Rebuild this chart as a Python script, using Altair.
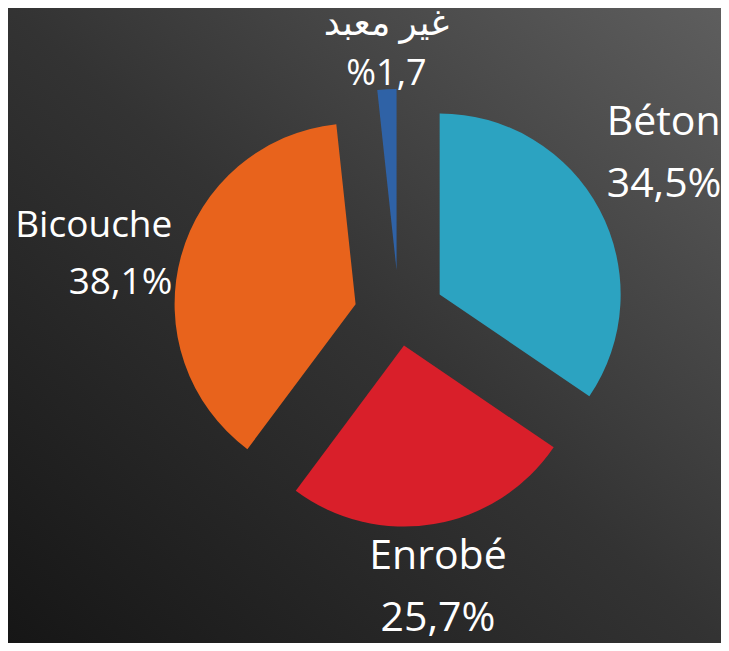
import altair as alt
import pandas as pd

# ---- data ----
categories = ["Béton", "Enrobé", "Bicouche", "غير معبد"]
values = [34.5, 25.7, 38.1, 1.7]
value_labels = ["34,5%", "25,7%", "38,1%", "%1,7"]

# ---- style ----
colors = ["#2ca3c1", "#d91f2a", "#e8631c", "#2f62a6"]
explode = [46, 30, 45, 46]          # pull-out of each slice (px)
font_sizes = [41, 41, 37, 36]       # label font size per slice
line_heights = [62, 62, 57, 50]     # label line spacing per slice
W, H = 713, 635
CX, CY = 391, 308                   # pie centre inside the view
R = 181                             # pie radius
LABEL_R = 235                       # label anchor distance from pie centre
FONT = "Open Sans, DejaVu Sans"

df = pd.DataFrame({
    "cat": categories,
    "val": values,
    "lab": value_labels,
    "order": list(range(len(categories))),
    "explode": explode,
    "fs": font_sizes,
    "lh": line_heights,
})

base = (
    alt.Chart(df)
    .transform_window(cum="sum(val)", sort=[alt.SortField("order")], frame=[None, 0])
    .transform_joinaggregate(total="sum(val)")
    .transform_calculate(
        t1="datum.cum / datum.total * 2 * PI",
        t0="(datum.cum - datum.val) / datum.total * 2 * PI",
    )
    .transform_calculate(mid="(datum.t0 + datum.t1) / 2")
    .transform_calculate(
        s="sin(datum.mid)",
        c="cos(datum.mid)",
    )
    .transform_calculate(
        cx=f"{CX} + datum.explode * datum.s",
        cy=f"{CY} - datum.explode * datum.c",
        px=f"{CX} + {LABEL_R} * datum.s",
        py=f"{CY} - {LABEL_R} * datum.c",
    )
    .transform_calculate(
        first=(
            "datum.c > 0.35 ? datum.py - 0.21 * datum.fs - datum.lh : "
            "(datum.c < -0.35 ? datum.py + 0.79 * datum.fs : datum.py + 0.3 * datum.fs - datum.lh / 2)"
        ),
    )
    .transform_calculate(
        ly=f"min(max(datum.first, 0.75 * datum.fs), {H} - 0.3 * datum.fs - datum.lh)",
        txt="datum.cat + '\\n' + datum.lab",
    )
)

color = alt.Color("cat:N", scale=alt.Scale(domain=categories, range=colors), legend=None)

arcs = base.mark_arc(radius=R).encode(
    x=alt.X("cx:Q", scale=None, axis=None),
    y=alt.Y("cy:Q", scale=None, axis=None),
    theta=alt.Theta("t0:Q", scale=None),
    theta2="t1:Q",
    color=color,
)

labels = base.mark_text(
    font=FONT,
    color="white",
    lineBreak="\n",
    lineHeight=alt.ExprRef("datum.lh"),
    baseline="alphabetic",
    align=alt.ExprRef("datum.s > 0.35 ? 'left' : (datum.s < -0.35 ? 'right' : 'center')"),
).encode(
    x=alt.X("px:Q", scale=None, axis=None),
    y=alt.Y("ly:Q", scale=None, axis=None),
    size=alt.Size("fs:Q", scale=None, legend=None),
    text="txt:N",
)

bg = alt.Chart(alt.Data(values=[{}])).mark_rect(
    color=alt.LinearGradient(
        gradient="linear",
        x1=0, y1=1, x2=1, y2=0,
        stops=[
            alt.GradientStop(offset=0, color="#161616"),
            alt.GradientStop(offset=0.5, color="#333333"),
            alt.GradientStop(offset=1, color="#5e5e5e"),
        ],
    )
).encode(x=alt.value(0), x2=alt.value(W), y=alt.value(0), y2=alt.value(H))

chart = (
    alt.layer(bg, arcs, labels)
    .properties(width=W, height=H, padding=0, autosize="none", background="#2a2a2a")
    .configure_view(strokeWidth=0)
)

chart.save("out.html", embed_options={"renderer": "svg", "actions": False})
